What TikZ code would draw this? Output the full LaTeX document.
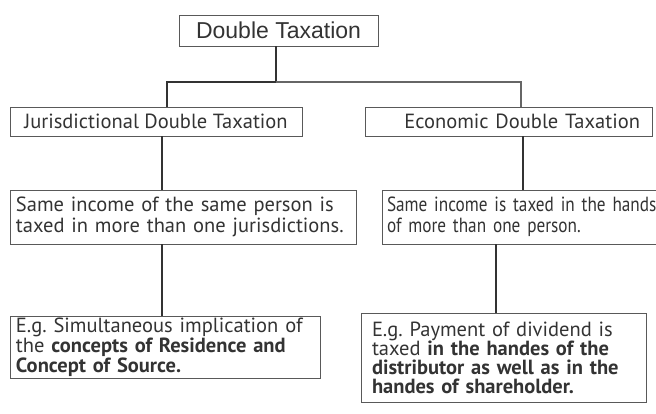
\documentclass[tikz,border=0pt]{standalone}
\usepackage{fontspec}
\setmainfont{PT Sans}
\newfontfamily\arialfont{Liberation Sans}
\newfontfamily\narrowfont[FakeStretch=0.84]{PT Sans}
\usepackage{tikz}
\usetikzlibrary{positioning}

\tikzset{
  box/.style={draw=black!65, line width=0.8pt, inner xsep=6pt, inner ysep=2pt,
    text=black!80, align=left, font=\fontsize{20.5}{21}\selectfont},
  link/.style={draw=black!80, line width=2pt},
  link2/.style={draw=black!60, line width=1.6pt},
}

\begin{document}
\frenchspacing
\begin{tikzpicture}[x=1pt, y=-1pt]
\useasboundingbox (0, 0) rectangle (656, 414);
\node[box, align=center, minimum width=199pt, minimum height=31pt,
  font=\arialfont\fontsize{23}{24}\selectfont] (top) at (278.5, 30.5) {Double Taxation};
\node[box, align=center, minimum width=292pt, minimum height=29pt] (jur) at (156, 121.5)
  {Jurisdictional Double Taxation};
\node[box, text width=263pt, inner xsep=12pt, minimum height=29pt, align=right] (eco) at (508.5, 121.5)
  {Economic Double Taxation};
\node[box, text width=334pt, minimum height=54pt] (same1) at (183, 217)
  {Same income of the same person is\\taxed in more than one jurisdictions.};
\node[box, text width=290pt, inner xsep=5pt, minimum height=54pt,
  font=\narrowfont\fontsize{20.5}{21}\selectfont] (same2) at (532, 217)
  {Same income is taxed in the hands\\of more than one person.};
\node[box, text width=298pt, minimum height=59pt,
  font=\fontsize{20.5}{18.5}\selectfont] (eg1) at (165, 347.5)
  {E.g. Simultaneous implication of\\the \textbf{concepts of Residence and}\\\textbf{Concept of Source.}};
\node[box, text width=263pt, inner xsep=11pt, minimum height=89pt,
  font=\fontsize{20.5}{19}\selectfont] (eg2) at (503.5, 358)
  {E.g. Payment of dividend is\\taxed \textbf{in the handes of the}\\\textbf{distributor as well as in the}\\\textbf{handes of shareholder.}};
% tree
\coordinate (split) at (276, 82);
\draw[link] (top.south -| split) -- (split);
\draw[link] (split) -| ([xshift=11pt]jur.north);
\draw[link2] (split) -| ([xshift=12.5pt]eco.north);
\draw[link] ([xshift=6pt]jur.south) -- ([xshift=6pt]jur.south |- same1.north);
\draw[link] ([xshift=14.5pt]eco.south) -- ([xshift=14.5pt]eco.south |- same2.north);
\draw[link] ([xshift=-21pt]same1.south) -- ([xshift=-21pt]same1.south |- eg1.north);
\draw[link] ([xshift=-36pt]same2.south) -- ([xshift=-36pt]same2.south |- eg2.north);
\end{tikzpicture}
\end{document}
